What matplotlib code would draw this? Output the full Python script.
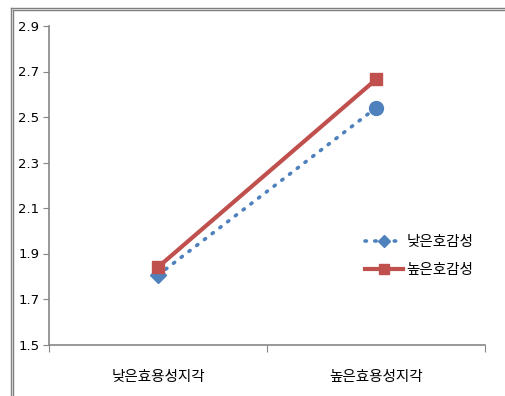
import matplotlib
matplotlib.use("Agg")
import matplotlib.pyplot as plt
from matplotlib.lines import Line2D

plt.rcParams['font.family'] = ['Noto Sans CJK KR', 'DejaVu Sans']

categories = ['낮은효용성지각', '높은효용성지각']
series_names = ['낮은호감성', '높은호감성']
low_values = [1.805, 2.54]
high_values = [1.84, 2.665]
yticks = [1.5, 1.7, 1.9, 2.1, 2.3, 2.5, 2.7, 2.9]

blue = '#4F81BD'
red = '#C0504D'
axis_gray = '#868686'
dotted = (0, (0.4, 2.3))

fig = plt.figure(figsize=(5.05, 3.96), dpi=100)
fig.patch.set_facecolor('white')
W, H = 505, 396

# outer chart frame (double gray line on left and top)
for x in (10.5, 13.0):
    fig.add_artist(Line2D([x / W, x / W], [0, 1 - 7.5 / H if x < 12 else 1 - 9.5 / H],
                          transform=fig.transFigure, color='#7f7f7f', lw=1.0))
for y in (7.5, 9.5):
    fig.add_artist(Line2D([10.5 / W if y < 8 else 13.0 / W, 1], [1 - y / H, 1 - y / H],
                          transform=fig.transFigure, color='#7f7f7f', lw=1.0))

ax = fig.add_axes([49 / W, 1 - 344.5 / H, (485 - 49) / W, (344.5 - 26) / H])
xpos = [0.5, 1.5]

ax.plot(xpos, low_values, color=blue, lw=2.6, linestyle=dotted,
        dash_capstyle='round', zorder=3)
ax.plot([xpos[0]], [low_values[0]], marker='D', color=blue, ms=8, ls='none', zorder=3)
ax.plot([xpos[1]], [low_values[1]], marker='o', color=blue, ms=10, ls='none', zorder=3)
ax.plot(xpos, high_values, color=red, lw=3, marker='s', ms=9, zorder=4)

ax.set_xlim(0, 2)
ax.set_ylim(1.5, 2.9)
ax.set_yticks(yticks)
ax.set_yticklabels([f'{v:.1f}' for v in yticks], fontsize=9.5, family=['DejaVu Sans'])
ax.set_xticks([0, 1, 2])
ax.set_xticklabels([])
ax.set_xticks(xpos, minor=True)
ax.set_xticklabels(categories, minor=True, fontsize=10.5)
ax.tick_params(axis='x', which='minor', length=0, pad=18)
ax.tick_params(axis='x', which='major', length=5, color=axis_gray, direction='out')
ax.tick_params(axis='y', length=4, color=axis_gray, direction='out', pad=3)

for s in ('top', 'right'):
    ax.spines[s].set_visible(False)
for s in ('left', 'bottom'):
    ax.spines[s].set_color(axis_gray)
    ax.spines[s].set_linewidth(1.2)

handles = [
    Line2D([], [], color=blue, lw=2.6, linestyle=dotted, dash_capstyle='round',
           marker='D', ms=6),
    Line2D([], [], color=red, lw=3, marker='s', ms=7),
]
leg = ax.legend(handles, series_names, loc='upper left',
                bbox_to_anchor=((352 - 49) / (485 - 49), (344.5 - 222) / (344.5 - 26)),
                frameon=False, fontsize=10.5, handlelength=2.6, handletextpad=0.25,
                labelspacing=0.95)

fig.savefig('out.png', dpi=100, facecolor='white')
